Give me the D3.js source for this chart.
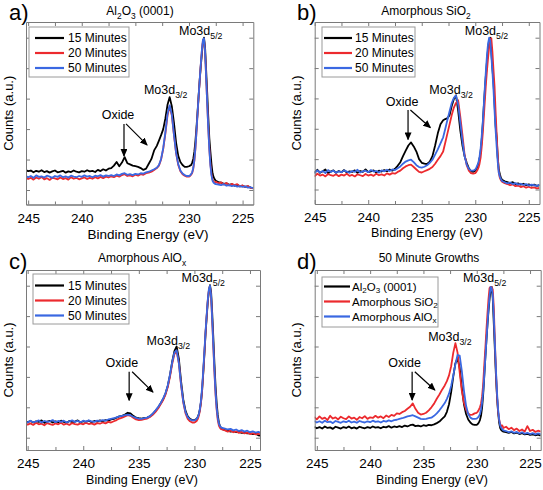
<!DOCTYPE html>
<html><head><meta charset="utf-8">
<script src="https://cdn.jsdelivr.net/npm/d3@7"></script>
<style>body{margin:0;background:#fff}svg{display:block}</style>
</head><body><svg id="chart" width="543" height="490"></svg>
<script>
// Binding energy grid (eV), shared by all spectra
const energy = [
 245.25,245,244.75,244.5,244.25,244,243.75,243.5,243.25,243,242.75,242.5,242.25,242,241.75,241.5,241.25,241,240.75,240.5,240.25,240,239.75,239.5,239.25,239,238.75,238.5,238.25,238,237.75,237.5,
 237.25,237,236.75,236.5,236.25,236,235.75,235.5,235.25,235,234.75,234.5,234.25,234,233.75,233.5,233.25,
 233,232.8,232.6,232.4,232.2,232,231.8,231.6,231.4,231.2,231,230.8,230.6,230.4,230.2,
 230,229.9,229.8,229.7,229.6,229.5,229.4,229.3,229.2,229.1,229,228.9,228.8,228.7,228.6,228.5,228.4,228.3,228.2,228.1,228,227.9,227.8,227.7,227.6,227.5,
 227.25,227,226.75,226.5,226.25,226,225.75,225.5,225.25,225,224.75,224.5,224.25,224
];
// a) Al2O3 (0001)
const a15 = [0.66,0.62,0.64,0.58,0.63,0.60,0.65,0.59,0.62,0.57,0.61,0.64,0.58,0.60,0.63,0.57,0.61,0.59,0.64,0.60,0.58,0.62,0.60,0.65,0.61,0.63,0.59,0.66,0.62,0.68,0.64,0.70,
 0.72,0.80,0.92,0.78,0.90,1.08,0.88,0.84,0.80,0.78,0.76,0.72,0.66,0.70,0.86,1.02,1.30,
 1.45,1.62,1.80,2.00,2.35,2.80,3.05,2.75,2.20,1.55,1.12,0.92,0.82,0.76,0.76,
 0.78,0.80,0.82,0.90,1.02,1.25,1.60,2.05,2.55,3.10,3.60,4.05,4.45,4.85,5.00,4.70,3.95,3.20,2.40,1.70,1.25,0.85,0.55,0.42,0.35,0.30,
 0.26,0.24,0.20,0.22,0.17,0.19,0.14,0.17,0.12,0.14,0.10,0.12,0.08,0.06];
const a20 = [0.42,0.36,0.40,0.34,0.41,0.37,0.43,0.35,0.39,0.33,0.40,0.38,0.35,0.41,0.36,0.39,0.34,0.42,0.37,0.40,0.35,0.38,0.41,0.36,0.40,0.37,0.42,0.38,0.43,0.39,0.44,0.41,
 0.45,0.42,0.47,0.44,0.49,0.52,0.46,0.48,0.45,0.50,0.47,0.52,0.50,0.55,0.57,0.60,0.66,
 0.72,0.80,1.00,1.35,1.85,2.45,2.75,2.45,1.80,1.20,0.82,0.62,0.52,0.47,0.44,
 0.44,0.46,0.50,0.56,0.70,0.95,1.35,1.90,2.50,3.05,3.60,4.10,4.55,4.90,4.95,4.55,3.70,2.85,2.05,1.35,0.85,0.52,0.34,0.28,0.24,0.27,
 0.22,0.25,0.18,0.23,0.15,0.20,0.16,0.19,0.12,0.15,0.10,0.13,0.07,0.05];
const a50 = [0.47,0.42,0.46,0.40,0.48,0.43,0.45,0.41,0.47,0.44,0.40,0.46,0.43,0.48,0.42,0.45,0.41,0.47,0.44,0.42,0.46,0.43,0.48,0.44,0.46,0.42,0.47,0.45,0.49,0.44,0.48,0.46,
 0.49,0.46,0.51,0.48,0.53,0.55,0.50,0.52,0.49,0.53,0.51,0.55,0.54,0.58,0.60,0.64,0.68,
 0.73,0.82,1.02,1.38,1.90,2.50,2.78,2.48,1.82,1.22,0.85,0.64,0.54,0.49,0.46,
 0.46,0.48,0.52,0.58,0.72,0.98,1.38,1.92,2.52,3.08,3.62,4.12,4.58,4.92,4.98,4.58,3.72,2.85,2.02,1.32,0.80,0.48,0.30,0.24,0.21,0.19,
 0.18,0.16,0.19,0.14,0.16,0.13,0.15,0.11,0.13,0.10,0.12,0.08,0.09,0.06];
// b) Amorphous SiO2
const b15 = [0.62,0.56,0.65,0.55,0.60,0.66,0.54,0.59,0.63,0.55,0.61,0.57,0.64,0.56,0.60,0.58,0.63,0.55,0.61,0.58,0.66,0.57,0.60,0.63,0.56,0.62,0.59,0.64,0.60,0.66,0.62,0.68,
 0.78,0.90,1.10,1.28,1.45,1.55,1.42,1.25,1.00,0.88,0.85,0.84,0.92,1.10,1.45,1.85,2.15,
 2.28,2.32,2.35,2.45,2.75,2.98,3.10,2.60,1.95,1.45,1.10,0.88,0.70,0.60,0.58,
 0.62,0.68,0.75,0.86,1.02,1.25,1.62,2.15,2.75,3.30,3.80,4.25,4.65,4.92,5.00,4.55,4.00,3.55,2.85,2.10,1.70,1.05,0.65,0.50,0.38,0.32,
 0.27,0.24,0.21,0.24,0.18,0.20,0.16,0.19,0.14,0.17,0.13,0.16,0.12,0.14];
const b20 = [0.50,0.44,0.52,0.46,0.49,0.43,0.51,0.47,0.45,0.50,0.44,0.49,0.46,0.52,0.45,0.48,0.43,0.50,0.47,0.44,0.51,0.46,0.49,0.45,0.52,0.47,0.50,0.46,0.53,0.49,0.54,0.52,
 0.58,0.62,0.70,0.76,0.80,0.82,0.74,0.66,0.58,0.56,0.60,0.64,0.68,0.74,0.85,0.98,1.10,
 1.25,1.55,1.85,2.15,2.45,2.70,2.85,2.94,2.40,1.80,1.15,0.80,0.62,0.54,0.52,
 0.54,0.58,0.64,0.72,0.85,1.05,1.40,1.85,2.40,2.95,3.50,3.95,4.35,4.70,4.92,4.98,4.55,3.95,3.40,2.55,1.80,1.10,0.55,0.38,0.30,0.26,
 0.21,0.18,0.14,0.17,0.11,0.13,0.08,0.11,0.06,0.09,0.05,0.07,0.04,0.05];
const b50 = [0.60,0.55,0.63,0.56,0.61,0.54,0.64,0.58,0.62,0.55,0.60,0.57,0.63,0.59,0.55,0.61,0.58,0.65,0.56,0.60,0.62,0.57,0.64,0.59,0.61,0.56,0.63,0.60,0.65,0.61,0.66,0.64,
 0.70,0.76,0.85,0.92,0.96,0.98,0.90,0.80,0.74,0.72,0.75,0.80,0.88,0.98,1.15,1.32,1.52,
 1.72,2.00,2.30,2.58,2.85,3.02,3.10,2.80,2.20,1.60,1.10,0.82,0.68,0.62,0.62,
 0.66,0.72,0.80,0.90,1.08,1.35,1.75,2.20,2.80,3.40,3.95,4.45,4.82,5.00,4.90,4.40,3.90,3.30,2.60,1.95,1.40,0.90,0.55,0.42,0.34,0.28,
 0.24,0.20,0.23,0.18,0.21,0.16,0.19,0.15,0.18,0.13,0.16,0.14,0.12,0.15];
// c) Amorphous AlOx
const c15 = [0.56,0.51,0.55,0.50,0.54,0.52,0.57,0.49,0.53,0.55,0.50,0.54,0.51,0.56,0.52,0.49,0.55,0.51,0.53,0.57,0.50,0.54,0.52,0.56,0.51,0.55,0.53,0.57,0.54,0.58,0.56,0.60,
 0.62,0.66,0.70,0.72,0.76,0.82,0.80,0.72,0.66,0.64,0.63,0.65,0.66,0.70,0.78,0.88,1.00,
 1.15,1.28,1.45,1.70,2.05,2.50,2.85,3.00,2.60,1.85,1.25,0.88,0.70,0.62,0.58,
 0.58,0.60,0.62,0.68,0.78,0.95,1.20,1.60,2.15,2.75,3.40,3.95,4.45,4.82,5.02,4.80,4.10,3.30,2.45,1.70,1.15,0.75,0.50,0.38,0.32,0.28,
 0.25,0.23,0.20,0.22,0.18,0.19,0.16,0.17,0.14,0.15,0.12,0.13,0.08,0.06];
const c20 = [0.48,0.43,0.47,0.42,0.49,0.44,0.46,0.41,0.48,0.45,0.42,0.47,0.44,0.49,0.43,0.46,0.42,0.48,0.45,0.43,0.47,0.44,0.49,0.45,0.47,0.43,0.48,0.46,0.50,0.47,0.52,0.50,
 0.54,0.58,0.63,0.66,0.70,0.74,0.72,0.66,0.60,0.58,0.59,0.61,0.63,0.68,0.75,0.85,0.97,
 1.12,1.25,1.42,1.66,2.00,2.42,2.75,2.85,2.45,1.72,1.15,0.80,0.62,0.54,0.50,
 0.50,0.52,0.55,0.61,0.72,0.90,1.18,1.60,2.18,2.80,3.45,4.00,4.50,4.85,4.98,4.65,3.85,3.00,2.15,1.42,0.92,0.58,0.40,0.32,0.28,0.27,
 0.24,0.20,0.23,0.18,0.21,0.16,0.19,0.14,0.17,0.12,0.15,0.11,0.13,0.10];
const c50 = [0.54,0.50,0.56,0.51,0.53,0.57,0.50,0.55,0.52,0.54,0.58,0.51,0.55,0.52,0.56,0.50,0.54,0.57,0.52,0.55,0.51,0.56,0.53,0.57,0.54,0.52,0.56,0.55,0.58,0.56,0.60,0.62,
 0.64,0.67,0.70,0.72,0.74,0.76,0.74,0.69,0.65,0.63,0.62,0.64,0.66,0.71,0.79,0.90,1.02,
 1.16,1.30,1.47,1.72,2.07,2.48,2.80,2.88,2.45,1.75,1.18,0.84,0.68,0.60,0.57,
 0.57,0.59,0.62,0.67,0.78,0.96,1.25,1.68,2.25,2.85,3.48,4.02,4.52,4.88,5.00,4.68,3.90,3.05,2.22,1.50,0.98,0.65,0.46,0.38,0.34,0.32,
 0.30,0.27,0.29,0.24,0.27,0.22,0.25,0.20,0.23,0.18,0.21,0.17,0.19,0.16];
// d) 50 minute growths
const dAl2O3 = [0.36,0.31,0.35,0.30,0.37,0.32,0.34,0.29,0.36,0.33,0.30,0.35,0.32,0.37,0.31,0.34,0.30,0.36,0.33,0.31,0.35,0.32,0.37,0.33,0.35,0.31,0.36,0.34,0.38,0.33,0.37,0.35,
 0.38,0.35,0.40,0.37,0.41,0.43,0.38,0.40,0.37,0.41,0.39,0.42,0.41,0.44,0.48,0.53,0.62,
 0.70,0.85,1.10,1.50,2.02,2.45,2.62,2.30,1.65,1.10,0.78,0.60,0.50,0.44,0.42,
 0.42,0.45,0.50,0.58,0.72,0.98,1.40,1.98,2.60,3.15,3.68,4.15,4.55,4.85,4.96,4.60,3.75,2.90,2.05,1.35,0.85,0.50,0.32,0.25,0.22,0.20,
 0.18,0.16,0.19,0.14,0.17,0.12,0.15,0.11,0.13,0.09,0.11,0.08,0.10,0.07];
const dSiO2 = [0.68,0.60,0.70,0.62,0.66,0.58,0.72,0.63,0.67,0.60,0.69,0.64,0.61,0.70,0.63,0.66,0.59,0.68,0.64,0.71,0.62,0.67,0.65,0.72,0.66,0.70,0.64,0.73,0.68,0.75,0.72,0.80,
 0.78,0.84,0.88,0.95,1.02,1.13,0.95,0.82,0.76,0.78,0.82,0.90,1.00,1.12,1.28,1.42,1.58,
 1.72,1.86,2.05,2.35,2.80,3.11,2.80,2.15,1.55,1.15,0.92,0.80,0.75,0.76,0.80,
 0.82,0.86,0.92,1.00,1.12,1.35,1.75,2.35,2.90,3.50,4.05,4.55,4.92,4.96,4.95,4.88,4.30,3.20,2.20,1.40,0.88,0.60,0.45,0.38,0.40,0.32,
 0.36,0.28,0.33,0.25,0.30,0.22,0.27,0.20,0.38,0.22,0.26,0.19,0.23,0.20];
const dAlOx = [0.55,0.50,0.54,0.49,0.56,0.51,0.53,0.48,0.55,0.52,0.49,0.54,0.51,0.56,0.50,0.53,0.49,0.55,0.52,0.50,0.54,0.51,0.56,0.52,0.54,0.50,0.55,0.53,0.57,0.54,0.58,0.59,
 0.62,0.64,0.67,0.70,0.72,0.74,0.70,0.66,0.62,0.61,0.62,0.64,0.66,0.72,0.80,0.90,1.02,
 1.14,1.28,1.45,1.70,2.05,2.42,2.72,2.70,2.20,1.55,1.05,0.78,0.66,0.62,0.62,
 0.63,0.66,0.70,0.78,0.92,1.15,1.50,2.00,2.58,3.15,3.70,4.22,4.65,4.96,4.92,4.70,4.00,3.10,2.25,1.50,0.95,0.60,0.40,0.32,0.28,0.24,
 0.22,0.18,0.21,0.16,0.19,0.14,0.18,0.13,0.16,0.12,0.15,0.11,0.14,0.12];

const xTicks = [245, 240, 235, 230, 225];
const xMinorTicks = [242.5, 237.5, 232.5, 227.5];
const yTicks = [0, 1, 2, 3, 4, 5];
const minuteLabels = ["15 Minutes", "20 Minutes", "50 Minutes"];
const substrateLabels = ["Al_{2}O_{3} (0001)", "Amorphous SiO_{2}", "Amorphous AlO_{x}"];
const panelTitles = ["Al_{2}O_{3} (0001)", "Amorphous SiO_{2}", "Amorphous AlO_{x}", "50 Minute Growths"];
const panelLetters = ["a)", "b)", "c)", "d)"];
const seriesColors = ["#000000", "#ec2a2e", "#3a68e2"];

const FONT = "'Liberation Sans', Arial, Helvetica, sans-serif";

const panels = [
  {series:[a15,a20,a50], labels:minuteLabels,
   box:{l:26,t:22,r:253.3,b:204.5}, xd:[245.2,224], y0:190, unit:30.46,
   letter:[9,20], title:[140,15], xt:[148,239,13.5], yt:[8],
   legend:{x:29,y:27,w:100,h:50,l1:35,l2:64,tx:68,rows:[38,53,68],fs:12},
   ann:{m52:[230.93,5.09], m32:[234.2,3.15], ox:[236.62,2.32], a1:[236.06,2.17,236.06,1.12], a2:[235.87,2.17,233.91,1.48]}},
  {series:[b15,b20,b50], labels:minuteLabels,
   box:{l:314.7,t:22,r:539.5,b:204}, xd:[245,224], y0:189.5, unit:30.36,
   letter:[297,20], title:[426,15], xt:[427,237,12.5], yt:[296],
   legend:{x:322,y:27,w:93,h:50,l1:324,l2:352,tx:355,rows:[38,53,68],fs:12},
   ann:{m52:[230.98,5.09], m32:[234.29,3.15], ox:[236.84,2.75], a1:[236.28,2.62,236.28,1.65], a2:[236.06,2.62,234.2,2.04]}},
  {series:[c15,c20,c50], labels:minuteLabels,
   box:{l:26,t:270,r:260,b:450}, xd:[245.15,224.1], y0:437.7, unit:30.4,
   letter:[9,269], title:[142,262], xt:[142,484,12.5], yt:[8],
   legend:{x:33,y:274,w:96,h:50,l1:35,l2:64,tx:68,rows:[285.5,300.5,315.5],fs:12},
   ann:{m52:[231.16,5.11], m32:[234.3,3.05], ox:[236.52,2.34], a1:[235.87,2.17,235.87,1.23], a2:[235.6,2.17,233.73,1.5]}},
  {series:[dAl2O3,dSiO2,dAlOx], labels:substrateLabels,
   box:{l:314.7,t:270,r:540.7,b:450}, xd:[245.2,224], y0:437.7, unit:30.4,
   letter:[297,269], title:[429,262], xt:[432,484,12.5], yt:[296],
   legend:{x:322,y:277,w:116,h:50,l1:324,l2:350,tx:352,rows:[286.5,301.5,316.5],fs:11.5},
   ann:{m52:[231.3,5.11], m32:[234.56,3.18], ox:[236.77,2.34], a1:[236.06,2.17,236.06,1.24], a2:[235.81,2.17,233.93,1.57]}}
];

const svg = d3.select("#chart").attr("font-family", FONT);
svg.append("rect").attr("width",543).attr("height",490).attr("fill","#fff");
const defs = svg.append("defs");
defs.append("marker").attr("id","arrow").attr("markerUnits","userSpaceOnUse")
  .attr("markerWidth",8).attr("markerHeight",7).attr("refX",7).attr("refY",3.5).attr("orient","auto")
  .append("path").attr("d","M0,0 L8,3.5 L0,7 z").attr("fill","#000");

function rich(sel, str, size, shift) {
  const sh = size * (shift == null ? 0.32 : shift);
  const parts = str.split(/(_\{[^}]*\})/).filter(p => p.length);
  let shifted = false;
  parts.forEach(p => {
    if (p.startsWith("_{")) {
      sel.append("tspan").attr("dy", sh).attr("font-size", size*0.7).text(p.slice(2,-1));
      shifted = true;
    } else {
      const t = sel.append("tspan").text(p);
      if (shifted) { t.attr("dy", -sh); shifted = false; }
    }
  });
}

panels.forEach((p, pi) => {
  const b = p.box;
  const x = d3.scaleLinear().domain(p.xd).range([b.l, b.r]);
  const y = d3.scaleLinear().domain([-(b.b - p.y0)/p.unit, (p.y0 - b.t)/p.unit]).range([b.b, b.t]);
  const g = svg.append("g");

  const clipId = "clip" + pi;
  defs.append("clipPath").attr("id", clipId).append("rect")
    .attr("x", b.l).attr("y", b.t).attr("width", b.r - b.l).attr("height", b.b - b.t);

  // spectra
  const line = d3.line().x((d,i) => x(energy[i])).y(d => y(d));
  const lg = g.append("g").attr("clip-path", `url(#${clipId})`);
  p.series.forEach((s, si) => {
    lg.append("path").datum(s).attr("d", line).attr("fill","none")
      .attr("stroke", seriesColors[si]).attr("stroke-width", 1.8).attr("stroke-linejoin","round");
  });

  // axes (inward ticks)
  const axCol = "#7a7a7a";
  const styleAxis = sel => {
    sel.selectAll(".domain").attr("stroke", axCol).attr("stroke-width", 1);
    sel.selectAll(".tick line").attr("stroke", axCol).attr("stroke-width", 1);
  };
  g.append("g").attr("transform", `translate(0,${b.b})`)
    .call(d3.axisBottom(x).tickValues(xTicks).tickSizeInner(-4).tickSizeOuter(0).tickPadding(8.5).tickFormat(d3.format("d")))
    .call(styleAxis)
    .call(s => s.selectAll("text").attr("font-size", 13.5).attr("font-family", FONT).attr("fill","#000"));
  g.append("g").attr("transform", `translate(0,${b.b})`)
    .call(d3.axisBottom(x).tickValues(xMinorTicks).tickSizeInner(-3).tickSizeOuter(0).tickFormat(""))
    .call(styleAxis);
  g.append("g").attr("transform", `translate(0,${b.t})`)
    .call(d3.axisTop(x).tickValues(xTicks.concat(xMinorTicks)).tickSizeInner(-4).tickSizeOuter(0).tickFormat(""))
    .call(styleAxis);
  g.append("g").attr("transform", `translate(${b.l},0)`)
    .call(d3.axisLeft(y).tickValues(yTicks).tickSizeInner(-4).tickSizeOuter(0).tickFormat(""))
    .call(styleAxis);
  g.append("g").attr("transform", `translate(${b.r},0)`)
    .call(d3.axisRight(y).tickValues(yTicks).tickSizeInner(-4).tickSizeOuter(0).tickFormat(""))
    .call(styleAxis);

  // axis titles
  g.append("text").attr("x", p.xt[0]).attr("y", p.xt[1]).attr("text-anchor","middle")
    .attr("font-size", p.xt[2]).text("Binding Energy (eV)");
  g.append("text").attr("transform", `translate(${p.yt[0] + 4.5},${(b.t + b.b)/2}) rotate(-90)`)
    .attr("text-anchor","middle").attr("font-size", 13).text("Counts (a.u.)");

  // panel letter & title
  g.append("text").attr("x", p.letter[0]).attr("y", p.letter[1]).attr("font-size", 22).text(panelLetters[pi]);
  const tt = g.append("text").attr("x", p.title[0]).attr("y", p.title[1]).attr("text-anchor","middle").attr("font-size", 12);
  rich(tt, panelTitles[pi], 12);

  // legend
  const L = p.legend;
  g.append("rect").attr("x", L.x).attr("y", L.y).attr("width", L.w).attr("height", L.h)
    .attr("fill","#fff").attr("stroke","#9a9a9a").attr("stroke-width",1);
  p.labels.forEach((lab, i) => {
    g.append("line").attr("x1", L.l1).attr("x2", L.l2).attr("y1", L.rows[i]).attr("y2", L.rows[i])
      .attr("stroke", seriesColors[i]).attr("stroke-width", 2.2);
    const t = g.append("text").attr("x", L.tx).attr("y", L.rows[i] + 4.2).attr("font-size", L.fs);
    rich(t, lab, L.fs, 0.18);
  });

  // annotations
  const A = p.ann;
  const m52 = g.append("text").attr("x", x(A.m52[0])).attr("y", y(A.m52[1])).attr("font-size", 12.5);
  rich(m52, "Mo3d_{5/2}", 12.5);
  const m32 = g.append("text").attr("x", x(A.m32[0])).attr("y", y(A.m32[1])).attr("font-size", 12.5);
  rich(m32, "Mo3d_{3/2}", 12.5);
  g.append("text").attr("x", x(A.ox[0])).attr("y", y(A.ox[1])).attr("text-anchor","middle")
    .attr("font-size", 12.5).text("Oxide");
  [A.a1, A.a2].forEach(a => {
    g.append("line").attr("x1", x(a[0])).attr("y1", y(a[1])).attr("x2", x(a[2])).attr("y2", y(a[3]))
      .attr("stroke","#000").attr("stroke-width",1.2).attr("marker-end","url(#arrow)");
  });
});
</script>
</body></html>
